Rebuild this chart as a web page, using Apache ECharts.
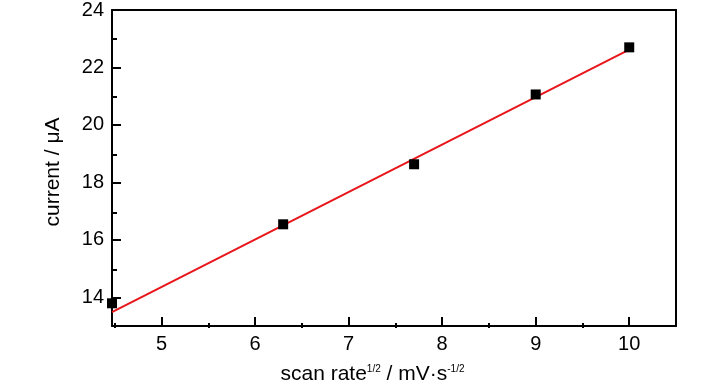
<!DOCTYPE html>
<html>
<head>
<meta charset="utf-8">
<script src="https://cdn.jsdelivr.net/npm/echarts@6/dist/echarts.min.js"></script>
<style>html,body{margin:0;padding:0;background:#fff}#c{width:728px;height:390px}</style>
</head>
<body>
<div id="c"></div>
<script>
// Data
const scanRateSqrt = [4.47, 6.30, 7.70, 9.00, 10.00];
const currentValues = [13.79, 16.54, 18.63, 21.06, 22.70];
const fitX = [4.47, 10.00];
const fitY = [13.48, 22.62];
const xMajorTicks = [5, 6, 7, 8, 9, 10];
const xMinorTicks = [4.5, 5.5, 6.5, 7.5, 8.5, 9.5];
const yMajorTicks = [14, 16, 18, 20, 22, 24];
const yMinorTicks = [15, 17, 19, 21, 23];
const xRange = [4.47, 10.5];
const yRange = [13, 24];

const FONT = 'Liberation Sans, Arial, Helvetica, sans-serif';
const BLACK = '#000';
const gridBox = {left: 112, right: 52, top: 10, bottom: 62};

const chart = echarts.init(document.getElementById('c'), null, {renderer: 'canvas'});
chart.setOption({
  animation: false,
  backgroundColor: '#fff',
  grid: [Object.assign({}, gridBox), Object.assign({}, gridBox)],
  xAxis: [
    {
      gridIndex: 0, type: 'value', position: 'bottom', min: xRange[0], max: xRange[1],
      axisLine: {show: true, lineStyle: {color: BLACK, width: 2}},
      axisTick: {show: true, inside: true, length: 9, customValues: xMajorTicks, lineStyle: {color: BLACK, width: 2}},
      axisLabel: {customValues: xMajorTicks, color: BLACK, fontSize: 20, fontFamily: FONT, margin: 8},
      splitLine: {show: false},
      name: 'scan rate{sup|1/2} / mV·s{sup|-1/2}',
      nameLocation: 'middle', nameGap: 38,
      nameTextStyle: {
        color: BLACK, fontSize: 21, fontFamily: FONT, padding: [0, 43, 0, 0],
        rich: {sup: {fontSize: 10, fontFamily: FONT, color: BLACK, padding: [0, 0, 10, 0]}}
      }
    },
    {
      gridIndex: 0, type: 'value', position: 'top', min: xRange[0], max: xRange[1],
      axisLine: {show: true, lineStyle: {color: BLACK, width: 2}},
      axisTick: {show: false}, axisLabel: {show: false}, splitLine: {show: false}
    },
    {
      gridIndex: 1, type: 'value', position: 'bottom', min: xRange[0], max: xRange[1],
      axisLine: {show: false},
      axisTick: {show: true, inside: true, length: 5, customValues: xMinorTicks, lineStyle: {color: BLACK, width: 2}},
      axisLabel: {show: false}, splitLine: {show: false}
    }
  ],
  yAxis: [
    {
      gridIndex: 0, type: 'value', position: 'left', min: yRange[0], max: yRange[1],
      axisLine: {show: true, lineStyle: {color: BLACK, width: 2}},
      axisTick: {show: true, inside: true, length: 9, customValues: yMajorTicks, lineStyle: {color: BLACK, width: 2}},
      axisLabel: {customValues: yMajorTicks, color: BLACK, fontSize: 20, fontFamily: FONT, margin: 8},
      splitLine: {show: false},
      name: 'current / μA', nameLocation: 'middle', nameGap: 48,
      nameTextStyle: {color: BLACK, fontSize: 21, fontFamily: FONT, padding: [0, 8, 0, 0]}
    },
    {
      gridIndex: 0, type: 'value', position: 'right', min: yRange[0], max: yRange[1],
      axisLine: {show: true, lineStyle: {color: BLACK, width: 2}},
      axisTick: {show: false}, axisLabel: {show: false}, splitLine: {show: false}
    },
    {
      gridIndex: 1, type: 'value', position: 'left', min: yRange[0], max: yRange[1],
      axisLine: {show: false},
      axisTick: {show: true, inside: true, length: 5, customValues: yMinorTicks, lineStyle: {color: BLACK, width: 2}},
      axisLabel: {show: false}, splitLine: {show: false}
    }
  ],
  series: [
    {
      type: 'line', xAxisIndex: 0, yAxisIndex: 0,
      data: fitX.map((x, i) => [x, fitY[i]]),
      showSymbol: false, symbol: 'none',
      lineStyle: {color: '#e8161b', width: 2}, z: 2
    },
    {
      type: 'scatter', xAxisIndex: 0, yAxisIndex: 0,
      data: scanRateSqrt.map((x, i) => [x, currentValues[i]]),
      symbol: 'rect', symbolSize: 10,
      itemStyle: {color: BLACK, opacity: 1}, z: 3
    }
  ]
});
</script>
</body>
</html>
